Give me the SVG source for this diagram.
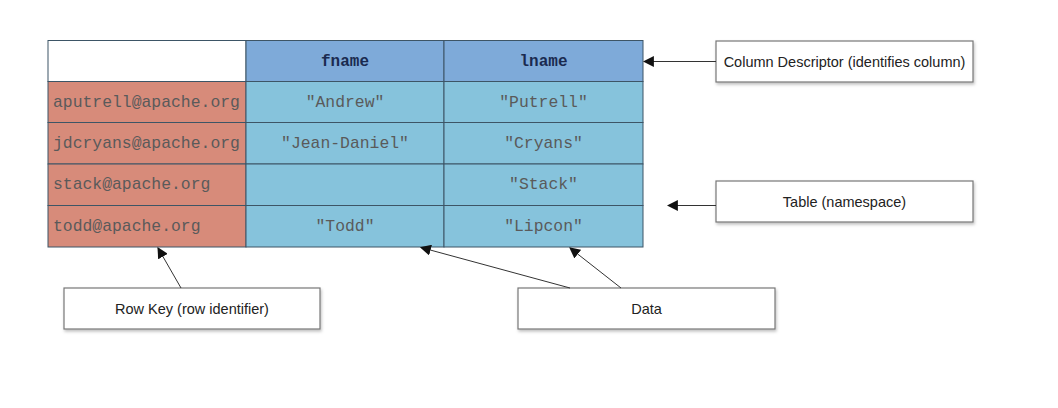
<svg xmlns="http://www.w3.org/2000/svg" width="1058" height="408" viewBox="0 0 1058 408">
<defs>
<style>
.cell{stroke:#3d5566;stroke-width:1}
.key{fill:#d78b7a}
.hdr{fill:#7eaad9}
.dat{fill:#86c3dc}
.mono{font-family:"Liberation Mono","Courier New",monospace;font-size:16.4px;fill:#5a5a5a;}
.hd{font-family:"Liberation Mono","Courier New",monospace;font-size:16px;font-weight:bold;fill:#1a2a50;text-anchor:middle}
.lbl{font-family:"Liberation Sans",Arial,sans-serif;font-size:14.5px;fill:#222;text-anchor:middle}
.box{fill:#fff;stroke:#777;stroke-width:1.2}
.conn{stroke:#333;stroke-width:1;fill:none;marker-end:url(#ah)}
</style>
<marker id="ah" viewBox="0 0 10 10" refX="9" refY="5" markerWidth="11" markerHeight="11" markerUnits="userSpaceOnUse" orient="auto">
<path d="M0,0 L10,5 L0,10 z" fill="#111"/>
</marker>
<filter id="sh" x="-10%" y="-10%" width="130%" height="140%">
<feDropShadow dx="1" dy="2" stdDeviation="1.5" flood-color="#000" flood-opacity="0.25"/>
</filter>
</defs>
<rect width="1058" height="408" fill="#fff"/>
<g id="table">
<rect x="48" y="40.5" width="198" height="41" fill="#fff" class="cell"/>
<rect x="246" y="40.5" width="198" height="41" class="hdr cell"/>
<rect x="444" y="40.5" width="199" height="41" class="hdr cell"/>
<rect x="48" y="81.5" width="198" height="41" class="key cell"/>
<rect x="48" y="122.5" width="198" height="41.5" class="key cell"/>
<rect x="48" y="164" width="198" height="41.5" class="key cell"/>
<rect x="48" y="205.5" width="198" height="41.5" class="key cell"/>
<rect x="246" y="81.5" width="198" height="41" class="dat cell"/>
<rect x="246" y="122.5" width="198" height="41.5" class="dat cell"/>
<rect x="246" y="164" width="198" height="41.5" class="dat cell"/>
<rect x="246" y="205.5" width="198" height="41.5" class="dat cell"/>
<rect x="444" y="81.5" width="199" height="41" class="dat cell"/>
<rect x="444" y="122.5" width="199" height="41.5" class="dat cell"/>
<rect x="444" y="164" width="199" height="41.5" class="dat cell"/>
<rect x="444" y="205.5" width="199" height="41.5" class="dat cell"/>
<text class="hd" x="345" y="66">fname</text>
<text class="hd" x="543.5" y="66">lname</text>
<text class="mono" x="53" y="107">aputrell@apache.org</text>
<text class="mono" x="53" y="148">jdcryans@apache.org</text>
<text class="mono" x="53" y="189">stack@apache.org</text>
<text class="mono" x="53" y="231">todd@apache.org</text>
<text class="mono" x="345" y="107" text-anchor="middle">"Andrew"</text>
<text class="mono" x="345" y="148" text-anchor="middle">"Jean-Daniel"</text>
<text class="mono" x="345" y="231" text-anchor="middle">"Todd"</text>
<text class="mono" x="543.5" y="107" text-anchor="middle">"Putrell"</text>
<text class="mono" x="543.5" y="148" text-anchor="middle">"Cryans"</text>
<text class="mono" x="543.5" y="189" text-anchor="middle">"Stack"</text>
<text class="mono" x="543.5" y="231" text-anchor="middle">"Lipcon"</text>
</g>
<g id="column-descriptor">
<rect x="716" y="41" width="257" height="41" class="box" filter="url(#sh)"/>
<text class="lbl" x="844.5" y="66.5">Column Descriptor (identifies column)</text>
</g>
<g id="table-namespace">
<rect x="716" y="181" width="257" height="41" class="box" filter="url(#sh)"/>
<text class="lbl" x="844.5" y="206.5">Table (namespace)</text>
</g>
<g id="row-key">
<rect x="64" y="288" width="256" height="41" class="box" filter="url(#sh)"/>
<text class="lbl" x="192" y="313.5">Row Key (row identifier)</text>
</g>
<g id="data">
<rect x="518" y="288" width="257" height="41" class="box" filter="url(#sh)"/>
<text class="lbl" x="646.5" y="313.5">Data</text>
</g>
<g id="connectors">
<line class="conn" x1="716" y1="61.5" x2="644" y2="61.5"/>
<line class="conn" x1="716" y1="205.5" x2="668" y2="205.5"/>
<line class="conn" x1="181" y1="288" x2="158" y2="248"/>
<line class="conn" x1="570" y1="288" x2="421" y2="247.5"/>
<line class="conn" x1="621" y1="288" x2="570" y2="248"/>
</g>
</svg>
